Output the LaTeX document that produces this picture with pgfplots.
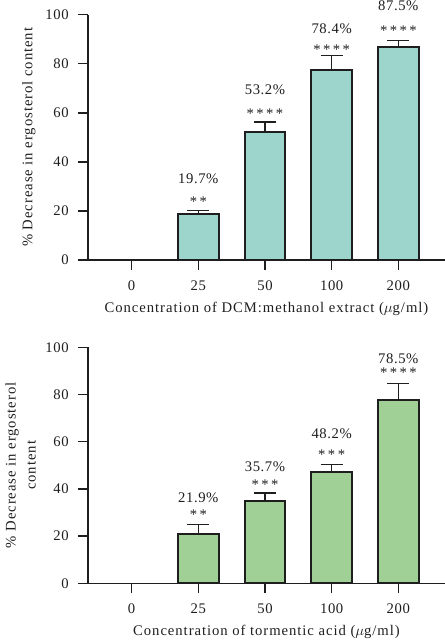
\documentclass[border=0pt]{standalone}
\usepackage{pgfplots}
\pgfplotsset{compat=1.18}
\usepackage{fontspec}
\setmainfont{Liberation Serif}[LetterSpace=4]
\definecolor{barA}{HTML}{9DD4CB}
\definecolor{barB}{HTML}{A0D096}
\definecolor{axc}{HTML}{1E1E1E}
\newcommand{\fs}{\fontsize{11}{14}\selectfont}
\newcommand{\fl}{\fontsize{11}{15}\selectfont\addfontfeature{LetterSpace=6.5}}
\pgfplotsset{
 mystyle/.style={
  scale only axis, width=267.75pt,
  xmin=-0.655, xmax=4.7, ymin=0, ymax=100,
  axis x line*=bottom, axis y line*=left,
  axis line style={axc, line width=1.1pt},
  xtick={0,...,4}, xticklabels={0,25,50,100,200},
  ytick={0,20,...,100},
  tick align=outside, major tick length=7.5pt,
  tick style={axc, line width=1.1pt},
  tick label style={font=\fs, text=axc},
  yticklabel style={xshift=-3.5pt},
  xticklabel style={yshift=-4.5pt},
  /pgf/number format/assume math mode=true,
  label style={font=\fl, text=axc},
  clip=false,
 },
 mybar/.style={ybar, bar width=0.61, draw=axc, line width=1.4pt,
  error bars/.cd, y dir=plus, y explicit,
  error bar style={line width=1.2pt, axc},
  error mark options={rotate=90, mark size=8.25pt, line width=1.2pt, axc},
  /pgfplots/.cd},
}
\begin{document}
\begin{tikzpicture}
% top panel
\begin{axis}[mystyle, height=184pt, at={(66pt,285pt)}, anchor=south west,
  xlabel={Concentration of DCM:methanol extract ($\mu$g/ml)},
  xlabel style={at={(axis description cs:0.5,0)}, anchor=center, yshift=-36.75pt},
  ylabel={\% Decrease in ergosterol content},
  ylabel style={at={(axis description cs:-0.1653,0.5)}, anchor=center},
]
\addplot[fill=barA, mybar] coordinates {
 (1,18.9) +- (0,1.2)
 (2,52.3) +- (0,4.0)
 (3,77.4) +- (0,5.9)
 (4,86.7) +- (0,2.8)
};
\node[font=\fs, text=axc] at (axis cs:1,33) {19.7\%};
\node[font=\fs, text=axc] at (axis cs:2,69.3) {53.2\%};
\node[font=\fs, text=axc] at (axis cs:3,94.4) {78.4\%};
\node[font=\fs, text=axc] at (axis cs:4,103.5) {87.5\%};
\node[font=\fs, text=axc] at (axis cs:1,23.8) {*\,*};
\node[font=\fs, text=axc] at (axis cs:2,59.5) {*\,*\,*\,*};
\node[font=\fs, text=axc] at (axis cs:3,85.6) {*\,*\,*\,*};
\node[font=\fs, text=axc] at (axis cs:4,93.3) {*\,*\,*\,*};
\end{axis}
% bottom panel
\begin{axis}[mystyle, height=177pt, at={(66pt,42.5pt)}, anchor=south west,
  xlabel={Concentration of tormentic acid ($\mu$g/ml)},
  xlabel style={at={(axis description cs:0.5,0)}, anchor=center, yshift=-36.3pt},
  ylabel={\% Decrease in ergosterol\\content},
  ylabel style={at={(axis description cs:-0.189,0.5)}, anchor=center, align=center},
]
\addplot[fill=barB, mybar] coordinates {
 (1,21.0) +- (0,3.9)
 (2,34.9) +- (0,3.4)
 (3,47.3) +- (0,3.1)
 (4,77.5) +- (0,7.1)
};
\node[font=\fs, text=axc] at (axis cs:1,36.4) {21.9\%};
\node[font=\fs, text=axc] at (axis cs:2,49.4) {35.7\%};
\node[font=\fs, text=axc] at (axis cs:3,63.6) {48.2\%};
\node[font=\fs, text=axc] at (axis cs:4,95.3) {78.5\%};
\node[font=\fs, text=axc] at (axis cs:1,29.2) {*\,*};
\node[font=\fs, text=axc] at (axis cs:2,41.7) {*\,*\,*};
\node[font=\fs, text=axc] at (axis cs:3,54.4) {*\,*\,*};
\node[font=\fs, text=axc] at (axis cs:4,89.4) {*\,*\,*\,*};
\end{axis}
\pgfresetboundingbox
\path[use as bounding box] (0,0) rectangle (333.75pt,480pt);
\end{tikzpicture}
\end{document}
